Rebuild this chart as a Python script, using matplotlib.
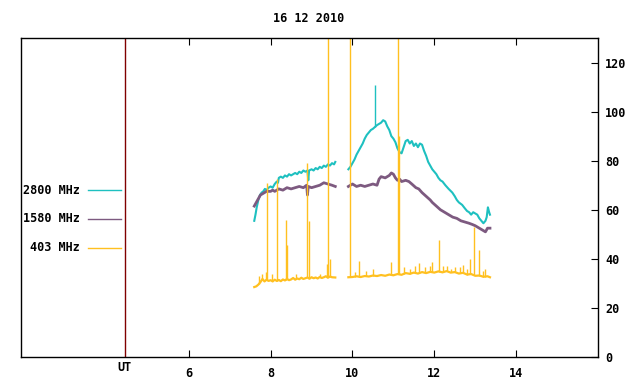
import matplotlib
matplotlib.use("Agg")
import matplotlib.pyplot as plt
import matplotlib.transforms as mtransforms
import numpy as np

plt.rcParams['font.family'] = ['DejaVu Sans Mono']
plt.rcParams['font.weight'] = 'bold'
plt.rcParams['font.size'] = 8.5

# 2800 MHz (hours UT, flux); nan marks the data gap
t_2800 = [7.60, 7.63, 7.66, 7.70, 7.74, 7.78, 7.82, 7.86, 7.90, 7.95, 8.00, 8.05, 8.10, 8.15,
          8.18, 8.20, 8.25, 8.30, 8.35, 8.40, 8.45, 8.50, 8.55, 8.60, 8.65, 8.70, 8.75, 8.80,
          8.85, 8.90, 8.92, 8.94, 9.00, 9.05, 9.10, 9.15, 9.20, 9.25, 9.30, 9.35, 9.40, 9.45,
          9.50, 9.55, 9.58, 9.70,
          9.90, 9.95, 10.00, 10.05, 10.10, 10.15, 10.20, 10.25, 10.30, 10.35, 10.40, 10.45,
          10.50, 10.60, 10.65, 10.70, 10.75, 10.80, 10.85, 10.90, 10.95,
          11.00, 11.05, 11.10, 11.15, 11.20, 11.25, 11.30, 11.35, 11.40, 11.45, 11.50, 11.55,
          11.60, 11.65, 11.70, 11.75, 11.80, 11.85, 11.90, 11.95, 12.00, 12.05, 12.10, 12.15,
          12.20, 12.27, 12.35, 12.44, 12.50, 12.55, 12.60, 12.68, 12.75, 12.80, 12.85, 12.90,
          12.95, 13.00, 13.05, 13.10, 13.15, 13.20, 13.25, 13.28, 13.31, 13.34, 13.36]
v_2800 = [55.5, 58, 61, 64, 66, 67, 67.5, 68.5, 68, 69, 69.5, 69, 70.5, 71.5,
          71, 73, 73.5, 73, 74, 73.5, 74.5, 74, 74.5, 75, 74.5, 75.5, 75, 76,
          75.5, 76, 72, 76, 76.5, 76, 77, 76.5, 77.5, 77, 78, 77.5, 78.5, 78,
          79, 78.5, 79.5, np.nan,
          76.5, 77.5, 79, 80.5, 82.5, 84, 85.5, 87, 89, 90.5, 91.5, 92.5,
          93, 94.5, 95, 95.5, 96.5, 96, 94, 92.5, 90,
          89, 87.5, 85, 83.5, 83, 85.5, 88, 88.5, 87, 88, 86, 87,
          85.5, 87, 86.5, 84, 82, 79.5, 78, 76.5, 75.5, 74.5, 73, 72,
          71.5, 70, 68.5, 67, 65.5, 64, 63, 62, 60.5, 59.5, 59, 58,
          59, 58.5, 58, 56.5, 55.5, 54.5, 55.5, 57, 61, 59, 58]

# 2800 MHz short spike: time, base and peak
spike_2800_t = [10.54]
spike_2800_lo = [93.8]
spike_2800_hi = [111]

# 1580 MHz
t_1580 = [7.60, 7.65, 7.70, 7.75, 7.80, 7.85, 7.90, 8.00, 8.05, 8.10, 8.15, 8.20, 8.30, 8.40,
          8.50, 8.60, 8.70, 8.80, 8.88, 8.90, 8.92, 9.00, 9.10, 9.20, 9.30, 9.40, 9.50, 9.58,
          9.70,
          9.90, 9.95, 10.00, 10.10, 10.20, 10.30, 10.40, 10.50, 10.60, 10.65, 10.70, 10.80,
          10.90, 10.95, 11.00, 11.05, 11.10, 11.15, 11.20, 11.30, 11.38, 11.45, 11.55, 11.62,
          11.70, 11.80, 11.90, 11.95, 12.05, 12.15, 12.25, 12.35, 12.45, 12.55, 12.65, 12.75,
          12.85, 12.93, 13.00, 13.10, 13.20, 13.25, 13.30, 13.36]
v_1580 = [61.5, 63, 64.5, 66, 66.5, 67, 67.5, 67.5, 68, 67.5, 68, 68.5, 68, 69,
          68.5, 69, 69.5, 69, 70, 66, 69.5, 69, 69.5, 70, 71, 70.5, 70, 69.5,
          np.nan,
          69.5, 70, 70.5, 69.5, 70, 69.5, 70, 70.5, 70, 72.5, 73.5, 73,
          74, 75, 74.5, 73, 72, 72.5, 71.5, 72, 71.5, 70.5, 69, 68.5,
          67, 65.5, 64, 63, 61.5, 60, 59, 58, 57, 56.5, 55.5, 55,
          54.5, 54, 53.5, 52.5, 51.5, 51, 52.5, 52.5]

# 403 MHz background level
t_403 = [7.60, 7.65, 7.70, 7.75, 7.80, 7.85, 7.90, 7.95, 8.00, 8.05, 8.10, 8.15, 8.20, 8.25,
         8.30, 8.35, 8.40, 8.45, 8.50, 8.55, 8.60, 8.65, 8.70, 8.75, 8.80, 8.85, 8.90, 8.95,
         9.00, 9.05, 9.10, 9.15, 9.20, 9.25, 9.30, 9.35, 9.40, 9.45, 9.50, 9.58, 9.70,
         9.90, 10.00, 10.10, 10.20, 10.30, 10.40, 10.50, 10.60, 10.70, 10.80, 10.90, 11.00,
         11.10, 11.20, 11.30, 11.40, 11.50, 11.60, 11.70, 11.80, 11.90, 12.00, 12.10, 12.20,
         12.30, 12.40, 12.50, 12.60, 12.70, 12.80, 12.90, 13.00, 13.10, 13.20, 13.30, 13.36]
v_403 = [28.5, 28.8, 29.5, 30.5, 31.8, 30.8, 31.5, 31, 31.3, 30.8, 31.5, 31, 31.4, 30.9,
         31.6, 31.2, 31.8, 31.3, 31.6, 32.2, 31.5, 32, 31.7, 32.3, 31.8, 32.1, 32.4, 31.9,
         32.5, 32.1, 32.4, 32, 32.6, 32.2, 32.5, 32.9, 32.3, 32.8, 32.5, 32.4, np.nan,
         32.5, 32.6, 32.9, 32.6, 33, 32.8, 33.2, 33, 33.4, 33.1, 33.6, 33.3,
         33.8, 33.5, 34.2, 33.9, 34.4, 34, 34.6, 34.2, 34.7, 34.4, 34.9, 34.5,
         35, 34.4, 34.6, 34, 34.3, 33.6, 33.8, 33.1, 33.2, 32.7, 32.9, 32.5]

# 403 MHz bursts: time and peak value
burst_t = [7.72, 7.80, 7.88, 7.90, 8.03, 8.15, 8.37, 8.41, 8.62, 8.90, 8.93, 9.20, 9.37,
           9.41, 9.45, 9.93, 10.05, 10.17, 10.32, 10.50, 10.95, 11.12, 11.13, 11.25, 11.40,
           11.52, 11.63, 11.78, 11.90, 11.95, 12.12, 12.22, 12.30, 12.42, 12.50, 12.62, 12.70,
           12.80, 12.88, 12.96, 13.10, 13.18, 13.25]
burst_v = [33, 34, 34.7, 71, 34, 72.6, 56, 45.7, 34, 79, 55.5, 34, 38,
           140, 40, 140, 34.5, 39, 35, 36, 38.8, 140, 90, 36.5, 36,
           37, 38.4, 36.5, 37, 38.8, 47.8, 37, 37, 36, 36.5, 36.5, 37.5,
           36, 40, 53, 43.7, 35, 36]

labels = ['2800 MHz', '1580 MHz', '403 MHz']
colors = ['#1ec0c0', '#7d5a80', '#ffc020']

fig = plt.figure(figsize=(6.4, 3.84), dpi=100)
ax = fig.add_axes([21 / 640, 27 / 384, 577 / 640, 319 / 384])

ax.plot(t_2800, v_2800, color=colors[0], lw=1.5)
ax.vlines(spike_2800_t, spike_2800_lo, spike_2800_hi, color=colors[0], lw=1)
ax.plot(t_1580, v_1580, color=colors[1], lw=2.0)
base = np.interp(burst_t, [t for t, v in zip(t_403, v_403) if not np.isnan(v)],
                 [v for v in v_403 if not np.isnan(v)])
ax.vlines(burst_t, base, burst_v, color=colors[2], lw=1)
ax.plot(t_403, v_403, color=colors[2], lw=1.6)

ax.set_xlim(1.9, 16)
ax.set_ylim(0, 130)
ax.set_xticks([6, 8, 10, 12, 14])
ax.set_yticks([0, 20, 40, 60, 80, 100, 120])
ax.yaxis.tick_right()
ax.tick_params(axis='x', direction='in', top=True, bottom=True, length=5, pad=7)
ax.tick_params(axis='y', direction='in', left=False, right=True, length=5, pad=5)
for s in ax.spines.values():
    s.set_linewidth(1)

# UT marker line and label
ax.axvline(4.44, color='#800000', lw=1)
trans = mtransforms.blended_transform_factory(ax.transData, ax.transAxes)
ax.text(4.44, -0.034, 'UT', transform=trans, ha='center', va='center')

# key on the left
key_y = [67.9, 56.4, 44.6]
for lab, col, y in zip(labels, colors, key_y):
    ax.plot([3.53, 4.34], [y, y], color=col, lw=1)
    ax.text(3.34, y, lab, ha='right', va='center')

fig.text(309 / 640, 1 - 18 / 384, '16 12 2010', ha='center', va='center')

fig.savefig('out.png', dpi=100)
